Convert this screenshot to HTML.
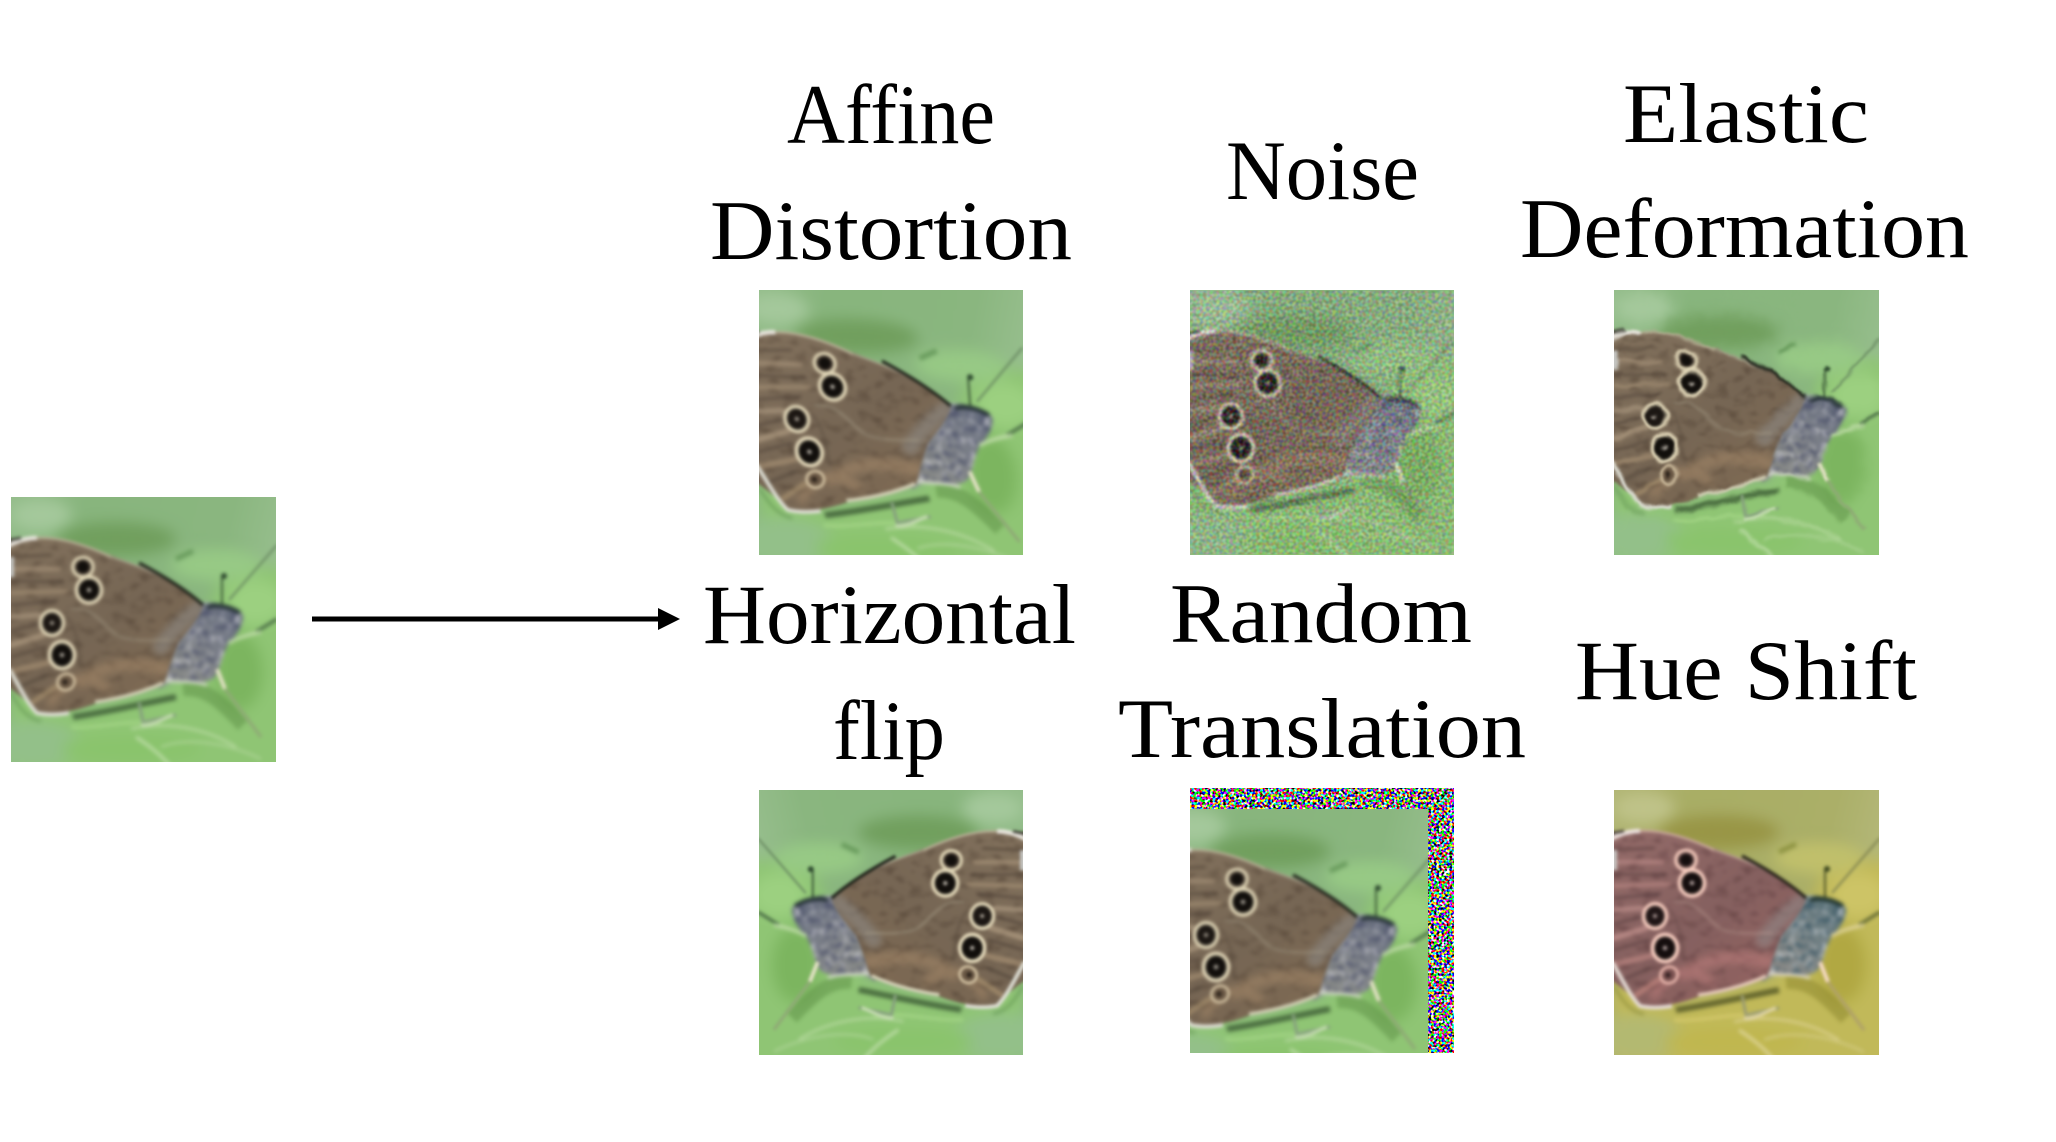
<!DOCTYPE html>
<html lang="en">
<head>
<meta charset="utf-8">
<title>Image augmentations</title>
<style>
html,body{margin:0;padding:0;background:#fff;width:2056px;height:1142px;overflow:hidden}
svg{display:block}
text{font-family:"Liberation Serif",serif;fill:#000}
</style>
</head>
<body>
<svg xmlns="http://www.w3.org/2000/svg" width="2056" height="1142" viewBox="0 0 2056 1142">
<defs>
  <linearGradient id="bgGrad" x1="0" y1="0" x2="1" y2="0.25">
    <stop offset="0" stop-color="#9cc294"/>
    <stop offset="0.35" stop-color="#88b57d"/>
    <stop offset="0.75" stop-color="#8ab67f"/>
    <stop offset="1" stop-color="#9ec395"/>
  </linearGradient>
  <linearGradient id="wingGrad" x1="0" y1="0" x2="1" y2="1">
    <stop offset="0" stop-color="#85745f"/>
    <stop offset="0.5" stop-color="#766654"/>
    <stop offset="1" stop-color="#836c52"/>
  </linearGradient>
  <linearGradient id="thoraxGrad" x1="0" y1="1" x2="1" y2="0">
    <stop offset="0" stop-color="#8b8c84"/>
    <stop offset="0.55" stop-color="#7c8088"/>
    <stop offset="1" stop-color="#5d6578"/>
  </linearGradient>
  <filter id="soft" x="-5%" y="-5%" width="110%" height="110%" color-interpolation-filters="sRGB"><feGaussianBlur stdDeviation="1.2"/></filter>
  <filter id="softLine" x="-20%" y="-20%" width="140%" height="140%" color-interpolation-filters="sRGB"><feGaussianBlur stdDeviation="1.8"/></filter>
  <filter id="softWide" x="-30%" y="-30%" width="160%" height="160%" color-interpolation-filters="sRGB"><feGaussianBlur stdDeviation="7"/></filter>
  <filter id="softMid" x="-30%" y="-30%" width="160%" height="160%" color-interpolation-filters="sRGB"><feGaussianBlur stdDeviation="3.5"/></filter>
  <filter id="mottle" x="0" y="0" width="100%" height="100%" color-interpolation-filters="sRGB">
    <feTurbulence type="fractalNoise" baseFrequency="0.13" numOctaves="2" seed="7" result="n"/>
    <feColorMatrix in="n" type="matrix" values="0 0 0 0 0.8  0 0 0 0 0.8  0 0 0 0 0.82  2.6 0 0 0 -1.25" result="lite"/>
    <feTurbulence type="fractalNoise" baseFrequency="0.15" numOctaves="2" seed="21" result="m"/>
    <feColorMatrix in="m" type="matrix" values="0 0 0 0 0.25  0 0 0 0 0.27  0 0 0 0 0.38  2.6 0 0 0 -1.25" result="dark"/>
    <feMerge result="all"><feMergeNode in="SourceGraphic"/><feMergeNode in="lite"/><feMergeNode in="dark"/></feMerge>
    <feComposite in="all" in2="SourceAlpha" operator="in"/>
  </filter>
  <filter id="wingTex" x="0" y="0" width="100%" height="100%" color-interpolation-filters="sRGB">
    <feTurbulence type="fractalNoise" baseFrequency="0.07 0.11" numOctaves="2" seed="11" result="n"/>
    <feColorMatrix in="n" type="matrix" values="0 0 0 0 0.28  0 0 0 0 0.22  0 0 0 0 0.17  1.4 0 0 0 -0.7" result="d"/>
    <feMerge result="all"><feMergeNode in="SourceGraphic"/><feMergeNode in="d"/></feMerge>
    <feComposite in="all" in2="SourceAlpha" operator="in"/>
  </filter>
  <filter id="rgbNoise" x="0" y="0" width="100%" height="100%" color-interpolation-filters="sRGB">
    <feTurbulence type="fractalNoise" baseFrequency="0.38" numOctaves="1" seed="5"/>
    <feComponentTransfer>
      <feFuncR type="linear" slope="9" intercept="-4"/>
      <feFuncG type="linear" slope="9" intercept="-4"/>
      <feFuncB type="linear" slope="9" intercept="-4"/>
      <feFuncA type="linear" slope="0" intercept="1"/>
    </feComponentTransfer>
  </filter>
  <filter id="softNoise" x="0" y="0" width="100%" height="100%" color-interpolation-filters="sRGB">
    <feTurbulence type="fractalNoise" baseFrequency="0.3" numOctaves="1" seed="9"/>
    <feComponentTransfer>
      <feFuncR type="linear" slope="3" intercept="-1"/>
      <feFuncG type="linear" slope="3" intercept="-1"/>
      <feFuncB type="linear" slope="3" intercept="-1"/>
      <feFuncA type="linear" slope="0" intercept="1"/>
    </feComponentTransfer>
    <feGaussianBlur stdDeviation="0.6"/>
  </filter>
  <filter id="hue" x="-5%" y="-5%" width="110%" height="110%" color-interpolation-filters="sRGB">
    <feColorMatrix type="hueRotate" values="-38"/>
    <feColorMatrix type="saturate" values="1.25"/>
    <feGaussianBlur stdDeviation="1.1"/>
  </filter>
  <filter id="elastic" x="-5%" y="-5%" width="110%" height="110%" color-interpolation-filters="sRGB">
    <feTurbulence type="fractalNoise" baseFrequency="0.06" numOctaves="2" seed="4" result="w"/>
    <feDisplacementMap in="SourceGraphic" in2="w" scale="6" xChannelSelector="R" yChannelSelector="G"/>
    <feGaussianBlur stdDeviation="0.9"/>
  </filter>
  <clipPath id="wingClip"><path d="M-30,44 C5,40 15,41 22,41 C40,39 60,42 99,58 C125,68 150,78 162,86 L192,109 C190,118 180,130 168,145 C160,160 158,175 152,188 C135,196 110,200 86,206 C70,212 50,218 26,216 C15,205 8,193 -30,176 Z"/></clipPath>

  <g id="butterfly">
    <rect x="-40" y="-40" width="345" height="345" fill="url(#bgGrad)"/>
    <g filter="url(#softWide)">
      <path d="M0,185 L60,215 L160,190 L215,70 L290,70 L300,300 L0,300 Z" fill="#8fc574"/>
      <ellipse cx="105" cy="42" rx="60" ry="17" fill="#719f5e"/>
      <ellipse cx="205" cy="68" rx="45" ry="16" fill="#97c985"/>
      <ellipse cx="20" cy="248" rx="50" ry="24" fill="#93c089"/>
      <ellipse cx="120" cy="252" rx="70" ry="14" fill="#8ac46c"/>
      <ellipse cx="228" cy="175" rx="24" ry="38" fill="#7cb55f"/>
      <ellipse cx="30" cy="18" rx="30" ry="16" fill="#a4c89b"/>
      <ellipse cx="245" cy="105" rx="28" ry="22" fill="#9cd080"/>
    </g>
    <g filter="url(#softLine)" fill="none">
      <path d="M165,62 L182,54" stroke="#6a9c5e" stroke-width="5"/>
      <path d="M120,232 C150,225 190,228 225,250" stroke="#b4d89c" stroke-width="2.4"/>
      <path d="M150,250 C175,240 215,245 250,262" stroke="#a9d291" stroke-width="2.4"/>
      <path d="M125,240 C140,250 150,258 160,270" stroke="#bcdca6" stroke-width="3"/>
      <path d="M60,230 C90,232 115,222 150,226" stroke="#a3d585" stroke-width="3"/>
      <path d="M62,220 C90,216 125,208 165,200" stroke="#2f4a2b" stroke-width="6" opacity="0.7"/>
      <path d="M172,192 C195,190 210,205 232,228" stroke="#4f8239" stroke-width="14" opacity="0.4"/>
      <path d="M0,196 C8,210 16,222 30,224" stroke="#5a8a4c" stroke-width="3" opacity="0.5"/>
    </g>

    <g filter="url(#soft)" fill="none">
      <path d="M211,108 L211,80" stroke="#3f5c3b" stroke-width="2"/>
      <circle cx="213" cy="79" r="3" fill="#2f4b30"/>
      <path d="M218,103 L266,48" stroke="#66855f" stroke-width="1.8"/>
      <path d="M245,135 L266,122" stroke="#5c8352" stroke-width="4"/>
    </g>

    <g filter="url(#softLine)">
      <g filter="url(#mottle)">
        <path d="M188,106 C205,104 224,108 232,118 C233,128 226,138 218,146 C212,156 210,168 206,177 C200,186 190,186 176,184 C165,184 154,186 148,192 C146,172 150,156 160,144 C172,130 184,120 188,106 Z" fill="url(#thoraxGrad)"/>
      </g>
      <path d="M196,110 C206,107 218,109 229,116" stroke="#222e33" stroke-width="4" fill="none"/>
      <path d="M152,183 C168,186 182,183 196,188" stroke="#d6dbcc" stroke-width="2.8" fill="none"/>
      <path d="M217,146 C226,141 235,138 250,135" stroke="#c0dca9" stroke-width="3.4" fill="none"/>
    </g>

    <g filter="url(#soft)" fill="none">
      <path d="M206,172 L214,192" stroke="#e2e1c4" stroke-width="4"/>
      <path d="M214,192 L250,240" stroke="#8fa976" stroke-width="3"/>
      <path d="M128,205 L132,225 L165,218" stroke="#86a07e" stroke-width="3"/>
      <path d="M130,228 C140,230 150,222 162,218" stroke="#c2d9ae" stroke-width="3.5"/>
    </g>

    <g filter="url(#soft)">
      <g clip-path="url(#wingClip)">
        <rect x="-30" y="30" width="240" height="200" fill="url(#wingGrad)" filter="url(#wingTex)"/>
        <g fill="none" stroke-linecap="round" filter="url(#softMid)" opacity=".55">
          <path d="M70,185 C95,165 125,165 155,172" stroke="#a5896a" stroke-width="12"/>
          <path d="M40,205 C60,175 75,180 95,190" stroke="#a78a6a" stroke-width="9"/>
          <path d="M150,150 C165,130 175,120 190,110" stroke="#8d8b88" stroke-width="16"/>
        </g>
        <g fill="none" stroke-linecap="round" filter="url(#soft)" opacity=".72">
          <path d="M0,60 L40,58" stroke="#4f4236" stroke-width="2.4"/>
          <path d="M0,72 L48,72" stroke="#a59178" stroke-width="4.4"/>
          <path d="M0,84 L52,85" stroke="#4e4136" stroke-width="2.4"/>
          <path d="M0,96 L55,94" stroke="#a18d73" stroke-width="4.4"/>
          <path d="M0,108 L45,104" stroke="#50433a" stroke-width="2.4"/>
          <path d="M0,120 L28,118" stroke="#ab9880" stroke-width="5"/>
          <path d="M0,134 L30,126" stroke="#4c3f36" stroke-width="2.4"/>
          <path d="M0,148 L32,138" stroke="#b09c82" stroke-width="6"/>
          <path d="M0,160 L34,150" stroke="#4d4036" stroke-width="2.4"/>
          <path d="M2,174 L36,166" stroke="#a48e72" stroke-width="6"/>
          <path d="M8,190 L36,178" stroke="#4b4036" stroke-width="2.4"/>
          <path d="M22,205 L44,190" stroke="#a8916f" stroke-width="5"/>
          <path d="M60,112 C85,108 95,135 110,140 C125,145 140,143 158,143" stroke="#a59b86" stroke-width="2"/>
          <path d="M55,120 C65,128 68,150 70,170" stroke="#5e5042" stroke-width="2.4"/>
        </g>
      </g>
      <path d="M-5,50 C5,44 15,41 26,41" stroke="#e7e4dc" stroke-width="4.6" fill="none"/>
      <path d="M-5,44 L10,41" stroke="#37352f" stroke-width="2.6" fill="none"/>
      <path d="M26,41 C50,40 75,48 100,60" stroke="#b7ad95" stroke-width="2.4" fill="none"/>
      <path d="M100,60 C125,68 150,78 162,86" stroke="#a89c8a" stroke-width="1.8" fill="none"/>
      <path d="M128,66 C145,75 172,90 192,108" stroke="#1c1f18" stroke-width="3" fill="none"/>
      <path d="M-2,172 C8,188 15,205 26,216 C35,218 45,218 58,216" stroke="#dcdcd2" stroke-width="4" fill="none"/>
      <path d="M84,205 C105,202 130,196 152,186" stroke="#d1cdb4" stroke-width="3.6" fill="none"/>
      <path d="M0,60 L0,80" stroke="#c5c6c3" stroke-width="6" fill="none"/>

      <g>
        <ellipse cx="72" cy="70" rx="10" ry="9.6" fill="#3a3028" stroke="#dcd1b2" stroke-width="3.6"/>
        <circle cx="72" cy="70" r="5.6" fill="#120f0c"/>
      </g>
      <g>
        <ellipse cx="78" cy="93" rx="12.4" ry="12.8" fill="#120f0c" stroke="#e2d7b8" stroke-width="3.8"/>
        <circle cx="78" cy="93" r="2.2" fill="#b0aaa0"/>
      </g>
      <g>
        <ellipse cx="41" cy="126" rx="11.4" ry="12.2" fill="#1c1713" stroke="#e2d7b8" stroke-width="3.6"/>
        <circle cx="41" cy="126" r="2" fill="#a59d92"/>
      </g>
      <g>
        <ellipse cx="51" cy="158" rx="12.4" ry="13.4" fill="#120f0c" stroke="#e6dbbc" stroke-width="3.8"/>
        <circle cx="51" cy="158" r="2.2" fill="#b0aaa0"/>
      </g>
      <g>
        <ellipse cx="55" cy="185" rx="8.6" ry="8" transform="rotate(-30 55 185)" fill="#6a5845" stroke="#d4c3a3" stroke-width="2.8"/>
        <circle cx="54" cy="185" r="2.6" fill="#2a2119"/>
      </g>
    </g>
  </g>
</defs>

<!-- original image -->
<svg x="11" y="497" width="265" height="265" viewBox="0 0 265 265">
  <use href="#butterfly" filter="url(#soft)"/>
</svg>

<!-- arrow -->
<g>
  <line x1="312" y1="619" x2="660" y2="619" stroke="#000" stroke-width="5"/>
  <polygon points="658,608 680,619 658,630" fill="#000"/>
</g>

<!-- labels -->
<text x="787" y="143" font-size="85" textLength="208" lengthAdjust="spacingAndGlyphs">Affine</text>
<text x="710" y="259" font-size="85" textLength="362" lengthAdjust="spacingAndGlyphs">Distortion</text>
<text x="1226" y="199" font-size="85" textLength="193" lengthAdjust="spacingAndGlyphs">Noise</text>
<text x="1623" y="142" font-size="85" textLength="246" lengthAdjust="spacingAndGlyphs">Elastic</text>
<text x="1520" y="257" font-size="85" textLength="449" lengthAdjust="spacingAndGlyphs">Deformation</text>
<text x="703" y="643" font-size="85" textLength="373" lengthAdjust="spacingAndGlyphs">Horizontal</text>
<text x="833" y="759" font-size="85" textLength="112" lengthAdjust="spacingAndGlyphs">flip</text>
<text x="1170" y="642" font-size="85" textLength="302" lengthAdjust="spacingAndGlyphs">Random</text>
<text x="1118" y="757" font-size="85" textLength="408" lengthAdjust="spacingAndGlyphs">Translation</text>
<text x="1575" y="699" font-size="85" textLength="342" lengthAdjust="spacingAndGlyphs">Hue Shift</text>

<!-- affine -->
<svg x="759" y="290" width="264" height="265" viewBox="0 0 265 265">
  <g filter="url(#soft)"><use href="#butterfly" transform="matrix(1.031,0.0345,0.0706,1.019,-13.2,-0.8)"/></g>
</svg>

<!-- noise -->
<svg x="1190" y="290" width="264" height="265" viewBox="0 0 265 265">
  <use href="#butterfly" filter="url(#soft)"/>
  <rect x="0" y="0" width="265" height="265" fill="#808080" filter="url(#softNoise)" opacity="0.2"/>
</svg>

<!-- elastic -->
<svg x="1614" y="290" width="265" height="265" viewBox="0 0 265 265">
  <use href="#butterfly" filter="url(#elastic)"/>
</svg>

<!-- flip -->
<svg x="759" y="790" width="264" height="265" viewBox="0 0 265 265">
  <g filter="url(#soft)"><use href="#butterfly" transform="translate(265,0) scale(-1,1)"/></g>
</svg>

<!-- translation -->
<g>
  <rect x="1190" y="788" width="264" height="265" fill="#888" filter="url(#rgbNoise)"/>
  <svg x="1190" y="809" width="238" height="244" viewBox="25 0 238 244">
    <use href="#butterfly" filter="url(#soft)"/>
  </svg>
</g>

<!-- hue -->
<svg x="1614" y="790" width="265" height="265" viewBox="0 0 265 265">
  <use href="#butterfly" filter="url(#hue)"/>
</svg>
</svg>
</body>
</html>
